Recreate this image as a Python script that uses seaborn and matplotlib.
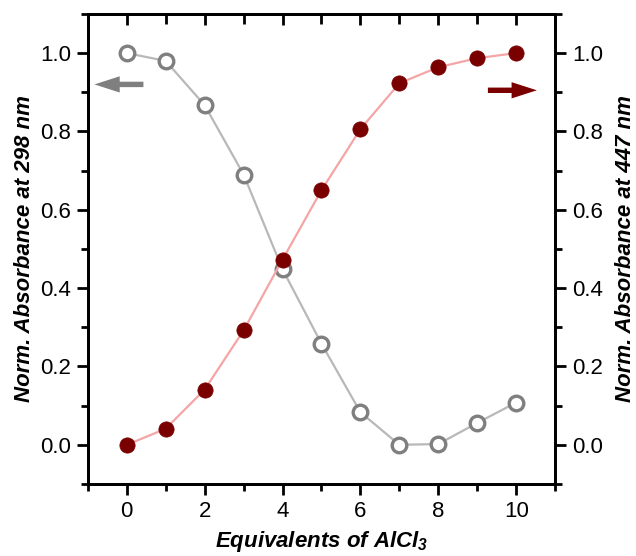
import matplotlib
matplotlib.use("Agg")
import matplotlib.pyplot as plt
from matplotlib.ticker import MultipleLocator
import seaborn as sns
import pandas as pd

# Titration data: equivalents of AlCl3 and normalised absorbances
equivalents = [0, 1, 2, 3, 4, 5, 6, 7, 8, 9, 10]
abs_298 = [1.000, 0.980, 0.867, 0.690, 0.448, 0.258, 0.083, 0.000, 0.002, 0.056, 0.108]
abs_447 = [0.000, 0.041, 0.141, 0.292, 0.473, 0.650, 0.806, 0.923, 0.964, 0.987, 1.000]

x_ticks = [0, 2, 4, 6, 8, 10]
y_ticks = [0.0, 0.2, 0.4, 0.6, 0.8, 1.0]

df = pd.DataFrame({"eq": equivalents, "a298": abs_298, "a447": abs_447})

sns.set_style("ticks")
plt.rcParams["font.family"] = ["Liberation Sans", "DejaVu Sans"]
plt.rcParams["mathtext.fontset"] = "custom"
plt.rcParams["mathtext.it"] = "Liberation Sans:italic:bold"
plt.rcParams["mathtext.rm"] = "Liberation Sans:italic:bold"
plt.rcParams["text.color"] = "black"
plt.rcParams["axes.labelcolor"] = "black"

fig = plt.figure(figsize=(6.36, 5.56), dpi=100)
ax = fig.add_axes([0.138, 0.1295, 0.735, 0.8455])
ax2 = ax.twinx()

gray_line = "#b8b8b8"
gray_edge = "#7f7f7f"
red_line = "#f5a5a5"
red_fill = "#7a0000"

sns.lineplot(data=df, x="eq", y="a298", ax=ax, color=gray_line, linewidth=1.6,
             marker="o", markersize=10.5, markerfacecolor="white",
             markeredgecolor=gray_edge, markeredgewidth=2.4, zorder=3)
sns.lineplot(data=df, x="eq", y="a447", ax=ax2, color=red_line, linewidth=1.6,
             marker="o", markersize=11, markerfacecolor=red_fill,
             markeredgecolor=red_fill, markeredgewidth=0.5, zorder=3)

for a in (ax, ax2):
    a.set_xlim(-1, 11)
    a.set_ylim(-0.1, 1.1)
    a.set_yticks(y_ticks)
    a.yaxis.set_minor_locator(MultipleLocator(0.1))
    for s in a.spines.values():
        s.set_visible(True)
        s.set_linewidth(2.0)
        s.set_color("black")

ax.set_xticks(x_ticks)
ax.xaxis.set_minor_locator(MultipleLocator(1))
ax.set_yticklabels([f"{v:.1f}" for v in y_ticks])
ax2.set_yticklabels([f"{v:.1f}" for v in y_ticks])

ax.tick_params(axis="both", which="major", length=8, width=2, labelsize=16,
               direction="out", pad=4, colors="black")
ax.tick_params(axis="both", which="minor", length=5, width=2, direction="out",
               colors="black")
ax.tick_params(axis="x", top=False)
ax2.tick_params(axis="y", which="major", length=8, width=2, labelsize=16,
                direction="out", pad=4, colors="black")
ax2.tick_params(axis="y", which="minor", length=5, width=2, direction="out",
                colors="black")

# inward ticks along the top edge
top = ax.secondary_xaxis("top")
top.set_xticks(x_ticks)
top.xaxis.set_minor_locator(MultipleLocator(1))
top.tick_params(which="both", direction="in", length=8, width=2, labeltop=False,
                colors="black")
top.tick_params(which="minor", length=7)
top.spines["top"].set_linewidth(2.0)

label_kw = dict(fontsize=16, fontweight="bold", fontstyle="italic", color="black")
ax.set_xlabel(r"Equivalents of AlCl$_3$", labelpad=5, **label_kw)
ax.set_ylabel("Norm. Absorbance at 298 nm", labelpad=4, **label_kw)
ax2.set_ylabel("Norm. Absorbance at 447 nm", labelpad=9, rotation=90, **label_kw)

# arrows pointing to the axis each curve belongs to
ax.annotate("", xy=(-0.9, 0.92), xytext=(0.5, 0.92),
            arrowprops=dict(arrowstyle="simple,head_length=1.4,head_width=0.9,tail_width=0.3",
                            mutation_scale=13, color="#7f7f7f", lw=0), zorder=4)
ax2.annotate("", xy=(10.6, 0.905), xytext=(9.2, 0.905),
             arrowprops=dict(arrowstyle="simple,head_length=1.4,head_width=0.9,tail_width=0.3",
                             mutation_scale=13, color=red_fill, lw=0), zorder=4)

fig.savefig("out.png", dpi=100)
